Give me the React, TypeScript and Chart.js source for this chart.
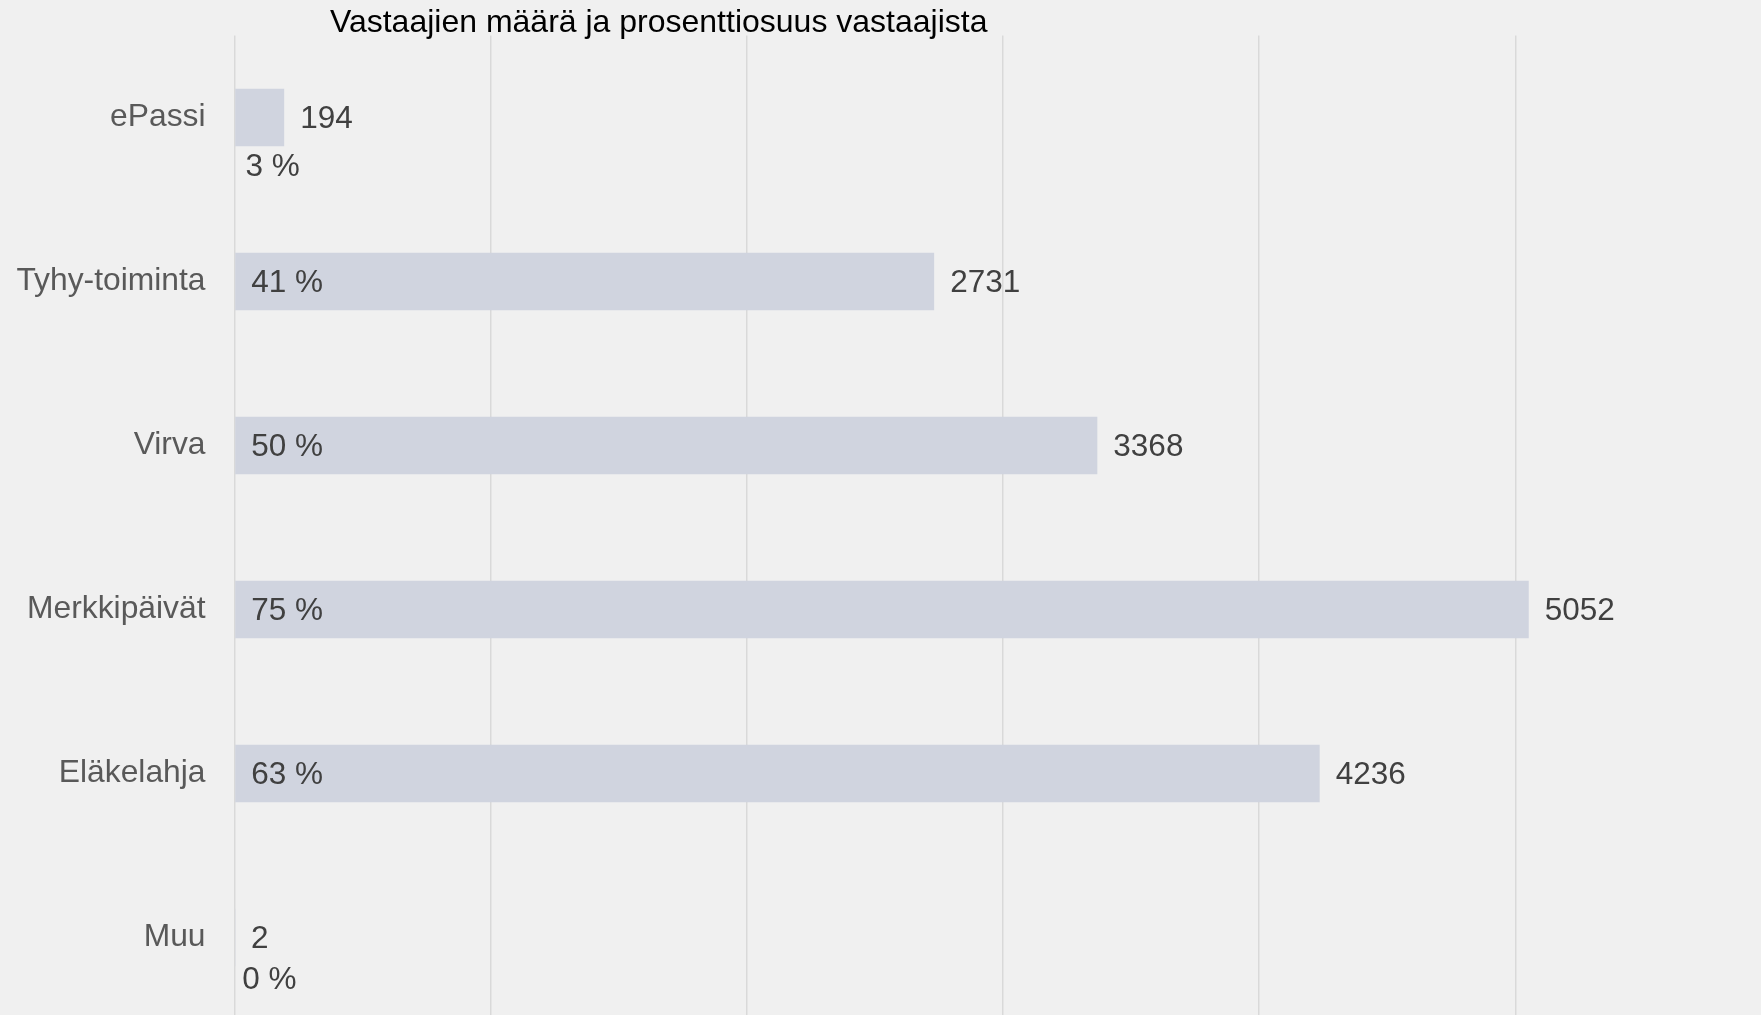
import React, { useEffect, useRef } from "react";
import { Chart, registerables } from "chart.js";

Chart.register(...registerables);

const categories = ["ePassi", "Tyhy-toiminta", "Virva", "Merkkipäivät", "Eläkelahja", "Muu"];
const counts = [194, 2731, 3368, 5052, 4236, 2];
const percents = [3, 41, 50, 75, 63, 0];
const titleText = "Vastaajien määrä ja prosenttiosuus vastaajista";
const xMax = 5900;
const xTickValues = [0, 1000, 2000, 3000, 4000, 5000];

const FONT = "'Liberation Sans', Arial, sans-serif";

const titlePlugin = {
  id: "customTitle",
  afterDraw(chart: any) {
    const ctx = chart.ctx;
    ctx.save();
    ctx.font = `32px ${FONT}`;
    ctx.fillStyle = "#000000";
    ctx.textAlign = "center";
    ctx.textBaseline = "middle";
    ctx.fillText(titleText, 658.7, 23);
    ctx.restore();
  },
};

const labelPlugin = {
  id: "barLabels",
  afterDatasetsDraw(chart: any) {
    const ctx = chart.ctx;
    const meta = chart.getDatasetMeta(0);
    ctx.save();
    ctx.font = `31.5px ${FONT}`;
    ctx.fillStyle = "#404040";
    ctx.textBaseline = "middle";
    ctx.textAlign = "left";
    meta.data.forEach((bar: any, i: number) => {
      const props = bar.getProps(["x", "y", "base"], true);
      const len = props.x - props.base;
      ctx.fillText(String(counts[i]), props.x + 16, props.y + 2);
      const pct = `${percents[i]} %`;
      const w = ctx.measureText(pct).width;
      if (len > w + 32) {
        ctx.fillText(pct, props.base + 16, props.y + 2);
      } else if (len > 2) {
        ctx.fillText(pct, props.base + 10.3, props.y + 49.6);
      } else {
        ctx.fillText(pct, props.base + 7, props.y + 43);
      }
    });
    ctx.restore();
  },
};

export default function App() {
  const ref = useRef<HTMLCanvasElement | null>(null);

  useEffect(() => {
    if (!ref.current) return;
    const chart = new Chart(ref.current, {
      type: "bar",
      data: {
        labels: categories,
        datasets: [
          {
            data: counts,
            backgroundColor: "#d0d4df",
            borderWidth: 0,
            barPercentage: 0.35,
            categoryPercentage: 1,
          },
        ],
      },
      options: {
        indexAxis: "y",
        responsive: false,
        animation: false,
        layout: { padding: { top: 35.5, right: 15, bottom: 0.5, left: 0 } },
        plugins: {
          legend: { display: false },
          title: { display: false },
          tooltip: { enabled: false },
        },
        scales: {
          x: {
            min: 0,
            max: xMax,
            ticks: { display: false },
            grid: { color: "#d9d9d9", lineWidth: 1.5, drawTicks: false },
            border: { display: false },
            afterBuildTicks(scale: any) {
              scale.ticks = xTickValues.map((v) => ({ value: v }));
            },
            afterFit(scale: any) {
              scale.height = 0;
              scale.paddingLeft = 0;
              scale.paddingRight = 0;
            },
          },
          y: {
            ticks: {
              color: "#595959",
              font: { family: FONT, size: 31.8 },
              padding: 29,
            },
            grid: { display: false, drawTicks: false },
            border: { display: false },
            afterFit(scale: any) {
              scale.width = 234.5;
              scale.paddingTop = 0;
              scale.paddingBottom = 0;
            },
          },
        },
      },
      plugins: [titlePlugin, labelPlugin],
    } as any);
    return () => chart.destroy();
  }, []);

  return (
    <div
      style={{
        position: "fixed",
        left: 0,
        top: 0,
        width: 1761,
        height: 1015,
        overflow: "hidden",
        background: "#f0f0f0",
      }}
    >
      <canvas ref={ref} width={1761} height={1020} style={{ display: "block" }} />
    </div>
  );
}
